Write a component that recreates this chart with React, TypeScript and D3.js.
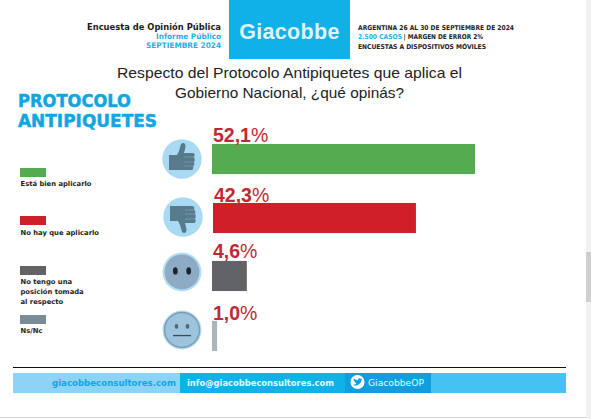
import React from "react";
import * as d3 from "d3";

const categories = ["Está bien aplicarlo", "No hay que aplicarlo", "No tengo una posición tomada al respecto", "Ns/Nc"];
const valueNumbers = ["52,1", "42,3", "4,6", "1,0"];
const barLengths = [52.1, 40.2, 6.9, 1.0]; // lengths as drawn in the picture
const barColors = ["#55ac50", "#cf2029", "#626366", "#a9b6bd"];
const legendColors = ["#55ac50", "#cf2029", "#626366", "#7b8c98"];
const legendLines = [["Está bien aplicarlo"], ["No hay que aplicarlo"], ["No tengo una", "posición tomada", "al respecto"], ["Ns/Nc"]];
const headerLeft = ["Encuesta de Opinión Pública", "Informe Público", "SEPTIEMBRE 2024"];
const title = ["Respecto del Protocolo Antipiquetes que aplica el", "Gobierno Nacional, ¿qué opinás?"];

const x = d3.scaleLinear().domain([0, 52.1]).range([212, 475]);
const y = d3.scaleBand<number>().domain([0, 1, 2, 3]).range([144, 351]).paddingInner(0.49).paddingOuter(0);
const legendY = [168, 216, 266, 315];
const faceOffset = [15, 14, 10, 9];
const barNudge = [0, 1, 0, 0];
const labelGap = [2, 1, 3, 1];
const F = "'Liberation Sans', Arial, sans-serif";
const FW = "'DejaVu Sans', sans-serif";

function Face({ i, cy }: { i: number; cy: number }) {
  const cx = i === 0 ? 182 : i === 1 ? 183 : 182;
  if (i < 2) {
    const flip = i === 1 ? -1 : 1;
    return (
      <g>
        <circle cx={cx} cy={cy} r={19.7} fill="#a9daf3" />
        <g transform={`translate(${cx},${cy}) scale(1,${flip})`} fill="#587a8d">
          <path d="M-13,-4 L-5,-4 L-3,-8 L-1,-15 C1,-17 4,-16 3.5,-12 L2,-6 L11,-6 C13,-6 13,-3 12,-2 C13,0 13,2 12,3 C13,5 12,7 11,7 C12,9 11,11 9,11 L-5,11 L-13,11 Z" />
          <g stroke="#7d99a8" strokeWidth={0.8}>
            <line x1={2} y1={-2} x2={12} y2={-2} />
            <line x1={2} y1={3} x2={12} y2={3} />
            <line x1={2} y1={7} x2={11} y2={7} />
          </g>
        </g>
      </g>
    );
  }
  return (
    <g>
      <circle cx={cx} cy={cy} r={19.5} fill="#b4dff3" />
      {i === 2 ? (
        <g>
          <circle cx={cx} cy={cy} r={17.5} fill="#8dabc2" />
          <g fill="#1a252e">
            <ellipse cx={cx - 6.7} cy={cy - 1} rx={2.4} ry={3.6} />
            <ellipse cx={cx + 6.7} cy={cy - 1} rx={2.4} ry={3.6} />
          </g>
        </g>
      ) : (
        <g>
          <circle cx={cx} cy={cy} r={17.5} fill="#9cc4dc" stroke="#7f9dae" strokeWidth={1.5} />
          <g fill="#55656f">
            <ellipse cx={cx - 5.5} cy={cy - 3.5} rx={1.8} ry={2.4} />
            <ellipse cx={cx + 5.5} cy={cy - 3.5} rx={1.8} ry={2.4} />
          </g>
          <rect x={cx - 9} y={cy + 5} width={18} height={1.3} fill="#3c4a54" />
        </g>
      )}
    </g>
  );
}

export default function App() {
  return (
    <svg width={591} height={419} style={{ position: "fixed", left: 0, top: 0, background: "#fff" }}>
      {/* window edges */}
      <rect x={586} y={0} width={5} height={419} fill="#f1f1f1" />
      <rect x={586} y={252} width={5} height={50} fill="#cfcfcf" />
      <line x1={0} y1={417.5} x2={586} y2={417.5} stroke="#d2d2d2" />

      {/* header */}
      <rect x={229} y={0} width={121} height={59} fill="#0fb1e8" />
      <text x={289.5} y={39} textAnchor="middle" fontFamily={F} fontWeight={700} fontSize={21.5} fill="#dff4fb" letterSpacing={0.3}>Giacobbe</text>
      <g fontFamily={FW} textAnchor="end" fontWeight={700}>
        <text x={221} y={29.5} fontSize={8.6} fill="#1c1c1c" textLength={134} lengthAdjust="spacingAndGlyphs">{headerLeft[0]}</text>
        <text x={221} y={39} fontSize={7.6} fill="#1fb0e6" textLength={65} lengthAdjust="spacingAndGlyphs">{headerLeft[1]}</text>
        <text x={221} y={48} fontSize={7.6} fill="#1fb0e6" textLength={75} lengthAdjust="spacingAndGlyphs">{headerLeft[2]}</text>
      </g>
      <g fontFamily={FW} fontSize={6.6} fontWeight={700} fill="#222">
        <text x={358} y={29.5} textLength={156} lengthAdjust="spacingAndGlyphs">ARGENTINA 26 AL 30 DE SEPTIEMBRE DE 2024</text>
        <text x={358} y={39} fill="#1fb0e6" textLength={44} lengthAdjust="spacingAndGlyphs">2.500 CASOS</text>
        <text x={403.5} y={39} textLength={79.5} lengthAdjust="spacingAndGlyphs">| MARGEN DE ERROR 2%</text>
        <text x={358} y={48.5} textLength={128} lengthAdjust="spacingAndGlyphs">ENCUESTAS A DISPOSITIVOS MÓVILES</text>
      </g>

      {/* title */}
      <g fontFamily={F} fontSize={14.6} fill="#222" textAnchor="middle">
        <text x={289.5} y={78} textLength={345} lengthAdjust="spacingAndGlyphs">{title[0]}</text>
        <text x={289.5} y={97.5} textLength={229} lengthAdjust="spacingAndGlyphs">{title[1]}</text>
      </g>

      {/* side title */}
      <g fontFamily={FW} fontWeight={700} fontSize={17} fill="#12a5e3" stroke="#12a5e3" strokeWidth={0.5}>
        <text x={18} y={107} textLength={113} lengthAdjust="spacingAndGlyphs">PROTOCOLO</text>
        <text x={18} y={127} textLength={139} lengthAdjust="spacingAndGlyphs">ANTIPIQUETES</text>
      </g>

      {/* legend */}
      {categories.map((c, i) => (
        <g key={c}>
          <rect x={20} y={legendY[i]} width={26} height={9} fill={legendColors[i]} />
          <g fontFamily={FW} fontSize={6.8} fontWeight={600} fill="#222">
            {legendLines[i].map((t, j) => (
              <text key={t} x={20.5} y={legendY[i] + 18 + (i === 1 ? 1 : 0) + j * 10}>{t}</text>
            ))}
          </g>
        </g>
      ))}

      {/* rows */}
      {barLengths.map((v, i) => {
        const top = y(i)! - (i === 2 ? 1 : 0);
        const x0 = x(0) + barNudge[i];
        return (
          <g key={i}>
            <Face i={i} cy={y(i)! + faceOffset[i]} />
            <rect x={x0} y={top} width={x(v) - x(0)} height={y.bandwidth()} fill={barColors[i]} />
            <text x={x0 + 1} y={top - labelGap[i]} fontFamily={F} fontSize={19.5} fill="#be2a34">
              <tspan fontWeight={700}>{valueNumbers[i]}</tspan>
              <tspan fontWeight={400}>%</tspan>
            </text>
          </g>
        );
      })}

      {/* footer */}
      <line x1={13} y1={367.5} x2={566} y2={367.5} stroke="#111" strokeWidth={1} />
      <rect x={13} y={373} width={167} height={20} fill="#8dd3f5" />
      <rect x={180} y={373} width={165} height={20} fill="#0fb1e8" />
      <rect x={345} y={373} width={86} height={20} fill="#0f9fe0" />
      <rect x={431} y={373} width={135} height={20} fill="#42c3f1" />
      <g fontFamily={FW} fontSize={8.3} fontWeight={700}>
        <text x={176} y={385.5} textAnchor="end" fill="#12a5e3" textLength={124} lengthAdjust="spacingAndGlyphs">giacobbeconsultores.com</text>
        <text x={187} y={385.5} fill="#e8f8fd" textLength={147} lengthAdjust="spacingAndGlyphs">info@giacobbeconsultores.com</text>
        <text x={368} y={385.5} fill="#e8f8fd" fontWeight={400} textLength={56} lengthAdjust="spacingAndGlyphs">GiacobbeOP</text>
      </g>
      <circle cx={357.5} cy={382} r={7} fill="#fff" />
      <path d="M353,385 C356,386.5 361,385 361.5,379.8 L362.5,378.8 L361,379 C360,377.5 357.5,378.2 357.8,380.2 C356,380 354.8,379.2 353.8,378.2 C353.4,379.5 353.6,380.5 354.5,381.2 C355,382.5 355.5,383 356.3,383.3 C355.5,384.3 354.3,384.8 353,385 Z" fill="#0f9fe0" />
    </svg>
  );
}
